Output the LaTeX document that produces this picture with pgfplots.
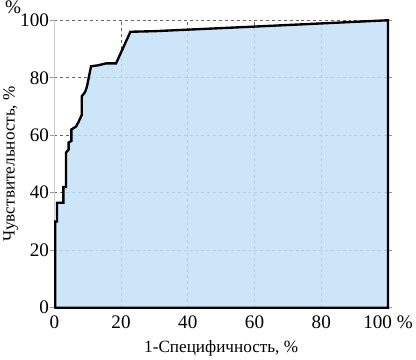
\documentclass[border=0pt]{standalone}
\usepackage{pgfplots}
\pgfplotsset{compat=1.18}
\usepackage{fontspec}
\setmainfont{Liberation Serif}
\definecolor{rocfill}{RGB}{196,224,248}
\begin{document}
\begin{tikzpicture}[x=1bp,y=1bp]
\begin{axis}[
  scale only axis,
  width=339bp, height=292bp,
  xmin=0, xmax=100, ymin=0, ymax=100,
  xtick={0,20,40,60,80,100},
  xticklabels={0,20,40,60,80,100 \%},
  ytick={0,20,40,60,80,100},
  /pgf/number format/assume math mode=true,
  tick label style={font=\fontsize{19.5}{22}\selectfont},
  label style={font=\fontsize{17.5}{20}\selectfont},
  xlabel={1-Специфичность, \%},
  ylabel={Чувствительность, \%},
  xlabel style={yshift=-5bp},
  ylabel style={yshift=-5bp},
  yticklabel style={xshift=2bp},
  xticklabel style={yshift=-1bp},
  axis line style={draw=none},
  separate axis lines,
  y axis line style={draw=gray!40, line width=1pt},
  xtick style={draw=none},
  ytick style={draw=gray!80, line width=0.6pt},
  tick align=outside,
  major tick length=4bp,
  grid=major,
  major grid style={dashed, black!60, line width=0.7pt},
  clip=false,
]
\addplot[draw=black, line width=2.4pt, fill=rocfill, fill opacity=0.85, draw opacity=1] coordinates {
(0,0) (0.3,0) (0.3,30) (0.8,30) (0.8,36.5) (2.7,36.5) (2.7,42) (3.5,42)
(3.5,54) (4.3,55) (4.3,57.5) (5.1,58) (5.1,62) (6.5,63) (7.2,64.5) (8.2,67)
(8.2,73.5) (9.2,75) (9.8,77) (11,84) (13,84.3) (15.5,85) (18.5,85)
(22.8,96) (30,96.2) (60,97.8) (100,100) (100,0)
} \closedcycle;
\node[anchor=center, font=\fontsize{19.5}{22}\selectfont, inner sep=1pt] at ([xshift=-42bp,yshift=13bp]rel axis cs:0,1) {\%};
\end{axis}
\end{tikzpicture}
\end{document}
